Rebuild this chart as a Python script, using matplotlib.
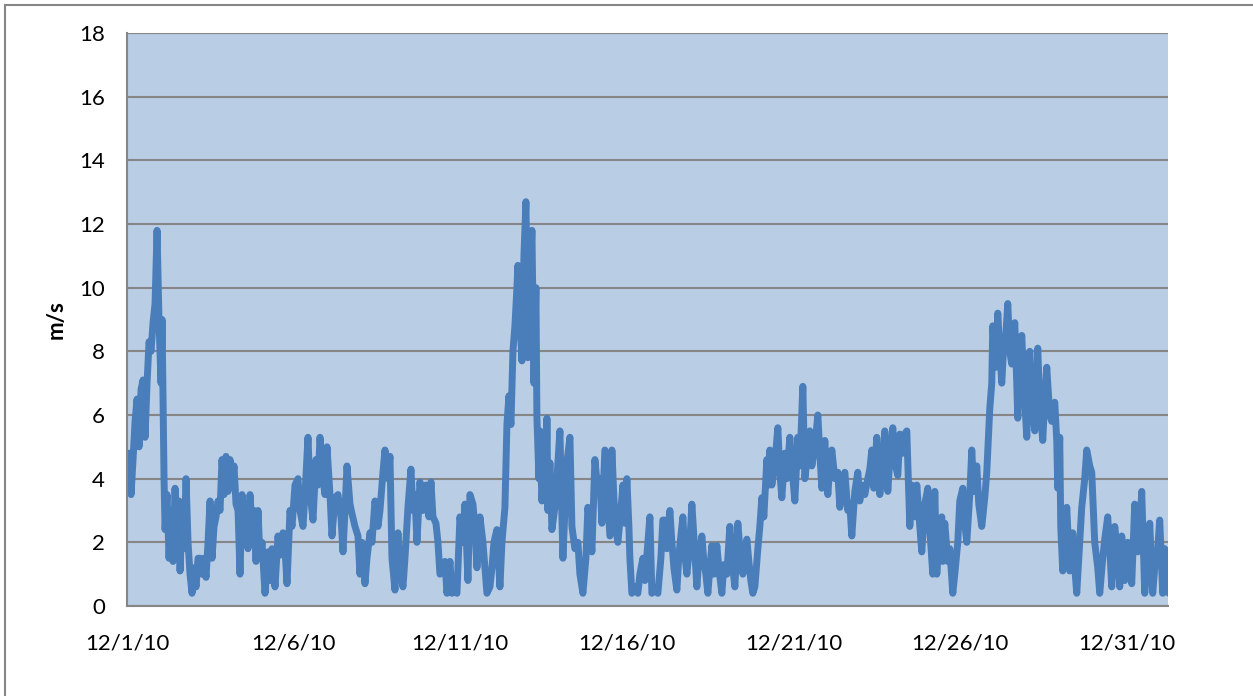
import datetime as dt
import matplotlib
matplotlib.use('Agg')
import matplotlib.pyplot as plt
from matplotlib.lines import Line2D

# days since 12/1/10 00:00
day_offset = [
    0.00, 0.06, 0.12, 0.18, 0.24, 0.30, 0.36, 0.42, 0.48, 0.54, 0.60, 0.66, 0.72, 0.78, 0.84, 0.90,
    0.96, 1.02, 1.05, 1.11, 1.14, 1.20, 1.26, 1.32, 1.38, 1.44, 1.50, 1.56, 1.59, 1.65, 1.71, 1.77,
    1.83, 1.89, 1.95, 2.01, 2.07, 2.13, 2.19, 2.25, 2.31, 2.37, 2.43, 2.49, 2.55, 2.61, 2.67, 2.73,
    2.79, 2.85, 2.91, 2.97, 3.03, 3.09, 3.15, 3.21, 3.27, 3.33, 3.39, 3.45, 3.51, 3.57, 3.63, 3.69,
    3.75, 3.81, 3.87, 3.93, 3.99,
    4.05, 4.14, 4.23, 4.29, 4.35, 4.44, 4.53, 4.59, 4.68, 4.74, 4.80, 4.89, 4.95, 5.04, 5.13, 5.19,
    5.28, 5.34, 5.43, 5.49, 5.58, 5.67, 5.73, 5.79, 5.88, 5.94, 6.00, 6.09, 6.15, 6.24, 6.33, 6.42,
    6.48, 6.54, 6.60, 6.69, 6.75, 6.84, 6.93, 6.99, 7.05, 7.14, 7.20, 7.29, 7.35, 7.44, 7.53, 7.59,
    7.68, 7.74, 7.83, 7.89, 7.95,
    8.04, 8.13, 8.19, 8.28, 8.34, 8.43, 8.52, 8.58, 8.64, 8.70, 8.79, 8.88, 8.97, 9.06, 9.12, 9.18,
    9.27, 9.33, 9.39, 9.48, 9.54, 9.60, 9.69, 9.75, 9.84, 9.90, 9.99, 10.08, 10.14, 10.23, 10.29,
    10.38, 10.44, 10.50, 10.59, 10.68, 10.74, 10.80, 10.89, 10.95, 11.01, 11.10, 11.19, 11.25,
    11.34, 11.40, 11.46, 11.52, 11.58, 11.64, 11.70, 11.73, 11.79, 11.85, 11.91, 11.97, 12.03,
    12.09, 12.15, 12.21, 12.27, 12.30, 12.36, 12.39, 12.45, 12.51, 12.57, 12.60, 12.63, 12.69,
    12.75, 12.84, 12.90, 12.99, 13.08, 13.14, 13.20, 13.29, 13.35, 13.44, 13.53, 13.59, 13.68,
    13.77, 13.83, 13.89, 13.95, 14.04, 14.13, 14.19, 14.25, 14.34, 14.40, 14.49, 14.55, 14.61,
    14.67, 14.73, 14.82, 14.88, 14.94, 15.00, 15.06, 15.09, 15.15, 15.24, 15.33, 15.39, 15.48,
    15.54, 15.63, 15.69, 15.75, 15.84, 15.93, 16.02, 16.08,
    16.14, 16.20, 16.29, 16.35, 16.41, 16.50, 16.56, 16.62, 16.68, 16.74, 16.80, 16.89, 16.95,
    17.01, 17.10, 17.16, 17.25, 17.31, 17.37, 17.43, 17.49, 17.55, 17.61, 17.70, 17.76, 17.85,
    17.91, 18.00, 18.09, 18.15, 18.24, 18.33, 18.39, 18.48, 18.54, 18.60, 18.66, 18.72, 18.78,
    18.84, 18.93, 18.99, 19.05, 19.11, 19.20, 19.26, 19.29, 19.35, 19.44, 19.53, 19.59, 19.65,
    19.74, 19.80, 19.89, 19.95, 20.04, 20.13, 20.19, 20.28, 20.34, 20.43, 20.49, 20.55, 20.64,
    20.73, 20.79, 20.85, 20.94, 21.03, 21.09, 21.15, 21.24, 21.33, 21.39, 21.48, 21.54, 21.63,
    21.69, 21.75, 21.84, 21.93, 21.99, 22.05, 22.14, 22.23, 22.29, 22.35, 22.41, 22.50, 22.59,
    22.68, 22.74, 22.83, 22.89, 22.98, 23.04, 23.13, 23.19, 23.28, 23.34, 23.40, 23.49, 23.55,
    23.64, 23.70, 23.79, 23.85, 23.94, 24.03, 24.09, 24.18, 24.24, 24.30, 24.39, 24.45, 24.48,
    24.54, 24.63, 24.69, 24.78, 24.84, 24.93, 24.99, 25.08, 25.14, 25.20, 25.29, 25.35, 25.41,
    25.50, 25.56, 25.65, 25.74, 25.80, 25.89, 25.95, 25.98, 26.07, 26.13, 26.19, 26.25, 26.31,
    26.37, 26.43, 26.49, 26.55, 26.64, 26.70, 26.73, 26.79, 26.85, 26.91, 27.00, 27.09, 27.15,
    27.24, 27.33, 27.39, 27.48, 27.54, 27.60, 27.69, 27.75, 27.84, 27.90, 27.93, 27.99, 28.02,
    28.08, 28.14, 28.20, 28.29, 28.38, 28.44, 28.50, 28.59, 28.65, 28.74, 28.80, 28.89, 28.95,
    29.04, 29.13, 29.19, 29.28, 29.34, 29.43, 29.49, 29.55, 29.64, 29.73, 29.79, 29.85, 29.94,
    30.03, 30.09, 30.15, 30.24, 30.33, 30.39, 30.45, 30.54, 30.63, 30.69, 30.78, 30.84, 30.93,
    30.99, 31.08, 31.14, 31.20, 31.26,
]

speed = [
    4.5, 4.8, 3.5, 4.6, 5.8, 6.5, 5.0, 6.8, 7.1, 5.3, 7.0, 8.3, 8.0, 8.9, 9.5, 11.8,
    8.9, 7.0, 9.0, 4.0, 2.4, 3.5, 1.5, 3.0, 1.4, 3.7, 2.0, 3.3, 1.1, 2.8, 1.8, 4.0,
    2.0, 1.0, 0.4, 1.2, 0.6, 1.5, 1.5, 1.0, 1.5, 0.9, 2.0, 3.3, 1.5, 2.5, 2.8, 3.3,
    3.0, 4.6, 3.5, 4.7, 3.6, 4.6, 3.8, 4.4, 3.2, 3.0, 1.0, 3.5, 2.0, 3.2, 1.8, 3.5,
    2.5, 3.0, 1.4, 3.0, 1.5,
    2.0, 0.4, 1.7, 0.8, 1.8, 0.6, 2.2, 1.6, 2.3, 1.8, 0.7, 3.0, 2.5, 3.8, 4.0, 3.0,
    2.5, 3.5, 5.3, 3.6, 2.7, 4.6, 3.8, 5.3, 4.0, 3.5, 5.0, 3.5, 2.2, 3.4, 3.5, 2.8,
    1.7, 3.0, 4.4, 3.2, 2.9, 2.5, 2.2, 1.0, 2.0, 0.7, 1.5, 2.3, 2.0, 3.3, 2.5, 3.0,
    4.2, 4.9, 4.0, 4.7, 1.5,
    0.5, 2.3, 1.2, 0.6, 1.5, 3.1, 4.3, 3.0, 3.5, 2.0, 3.9, 3.0, 3.8, 2.8, 3.9, 2.8,
    2.6, 2.0, 1.0, 1.2, 1.4, 0.4, 1.4, 0.4, 0.6, 0.4, 2.8, 2.0, 3.2, 0.8, 3.5,
    3.2, 2.5, 1.2, 2.8, 2.0, 1.2, 0.4, 0.6, 1.2, 2.0, 2.4, 0.6, 2.0,
    3.1, 5.7, 6.6, 5.7, 8.0, 8.8, 10.0, 10.7, 9.0, 7.7, 11.0, 12.7, 7.8,
    10.0, 11.8, 7.0, 10.0, 5.9, 4.0, 5.5, 3.3, 4.5, 3.3, 5.9, 3.0, 4.5,
    2.4, 3.1, 4.0, 5.5, 1.5, 3.0, 4.5, 5.3, 2.5, 1.8, 2.0, 1.0, 0.4,
    1.5, 3.1, 2.5, 1.7, 4.6, 3.6, 4.0, 2.6, 4.9, 3.8, 2.2, 4.9, 3.4,
    2.4, 2.0, 3.0, 3.8, 2.6, 4.0, 2.5, 1.5, 0.4, 0.6, 0.4, 1.0, 1.5,
    0.8, 2.0, 2.8, 0.4, 0.5, 0.4, 1.5, 2.7,
    2.7, 1.8, 3.0, 2.0, 1.2, 0.5, 1.6, 2.2, 2.8, 1.6, 1.0, 2.0, 3.2,
    2.2, 0.6, 1.5, 2.2, 1.4, 1.0, 0.4, 1.2, 1.9, 1.0, 1.9, 1.2, 0.4,
    1.3, 1.0, 2.5, 1.5, 0.6, 2.6, 1.8, 1.0, 1.5, 2.1, 1.4, 0.8, 0.4,
    0.6, 1.8, 2.5, 3.4, 2.8, 4.6, 3.8, 4.9, 3.8, 4.5, 5.6, 4.2, 3.4,
    4.8, 4.0, 5.3, 4.4, 3.3, 5.3, 4.4, 6.9, 4.0, 4.8, 5.5, 4.4, 5.0,
    6.0, 4.8, 3.7, 5.2, 3.5, 4.4, 4.9, 4.0, 4.2, 3.1, 3.8, 4.2, 3.0,
    3.2, 2.2, 3.6, 4.2, 3.3, 3.8, 3.5, 4.0, 4.3, 4.9, 3.7, 5.3, 3.5,
    4.4, 5.5, 3.6, 4.6, 5.6, 4.5, 4.1, 5.4, 4.8, 5.4, 5.5, 2.5, 3.8,
    2.8, 3.8, 2.5, 1.7, 3.2, 3.7, 2.4, 1.0, 3.6, 1.0, 2.5, 2.8, 1.4,
    2.6, 1.4, 1.8, 0.4, 1.0, 2.0, 3.3, 3.7, 2.6, 2.0, 3.5, 4.9, 3.6,
    4.4, 3.2, 2.5, 3.4, 4.2, 6.2, 7.0, 8.8, 7.5, 9.2, 8.0, 7.0, 8.2,
    8.5, 9.5, 8.0, 7.6, 8.9, 7.0, 5.9, 7.5, 8.5, 7.0, 5.3, 8.0, 6.5,
    5.5, 8.1, 6.3, 5.2, 6.5, 7.5, 6.0, 5.8, 6.4, 5.2, 3.7, 5.3, 2.5,
    1.1, 2.0, 3.1, 1.1, 2.3, 1.2, 0.4, 2.0, 3.1, 4.0, 4.9, 4.4, 4.2,
    2.0, 1.2, 0.4, 1.5, 2.1, 2.8, 1.8, 0.6, 2.5, 1.6, 0.6, 2.2, 0.8,
    2.0, 1.6, 0.7, 3.2, 1.7, 2.3, 3.6, 0.4, 1.5, 2.6, 0.4, 1.2, 1.8,
    2.7, 0.4, 1.8, 1.7, 0.4,
]

tick_days = [0, 5, 10, 15, 20, 25, 30]
tick_labels = ['12/1/10', '12/6/10', '12/11/10', '12/16/10', '12/21/10', '12/26/10', '12/31/10']
y_ticks = [0, 2, 4, 6, 8, 10, 12, 14, 16, 18]

start = dt.datetime(2010, 12, 1)
times = [start + dt.timedelta(days=d) for d in day_offset]

plt.rcParams['font.family'] = ['Lato', 'DejaVu Sans']

LINE = '#4A7EBB'
BG = '#B9CDE5'
GRID = '#868686'

fig = plt.figure(figsize=(12.53, 6.96), dpi=100)
ax = fig.add_axes([0.1014, 0.1293, 0.8308, 0.8233])
ax.set_facecolor(BG)

ax.plot(times, speed, color=LINE, linewidth=5.0, solid_joinstyle='round', solid_capstyle='round')

ax.set_ylim(0, 18)
ax.set_yticks(y_ticks)
ax.set_xlim(start, start + dt.timedelta(days=31.24))
ax.set_xticks([start + dt.timedelta(days=d) for d in tick_days])
ax.set_xticklabels(tick_labels)

ax.grid(axis='y', color=GRID, linewidth=1.5)
ax.set_axisbelow(True)
for side in ['top', 'right']:
    ax.spines[side].set_visible(False)
for side in ['left', 'bottom']:
    ax.spines[side].set_color(GRID)
    ax.spines[side].set_linewidth(1.5)

ax.tick_params(axis='both', length=0, labelsize=16, colors='black')
ax.tick_params(axis='y', pad=16)
ax.tick_params(axis='x', pad=20)
ax.set_ylabel('m/s', fontsize=16, fontweight='bold', labelpad=9)

# outer chart border (left and top are the only edges inside the image)
fig.add_artist(Line2D([5 / 1253, 5 / 1253], [0, 1 - 5 / 696], transform=fig.transFigure, color=GRID, linewidth=1.5))
fig.add_artist(Line2D([5 / 1253, 1], [1 - 5 / 696, 1 - 5 / 696], transform=fig.transFigure, color=GRID, linewidth=1.5))

fig.savefig('out.png', dpi=100)
